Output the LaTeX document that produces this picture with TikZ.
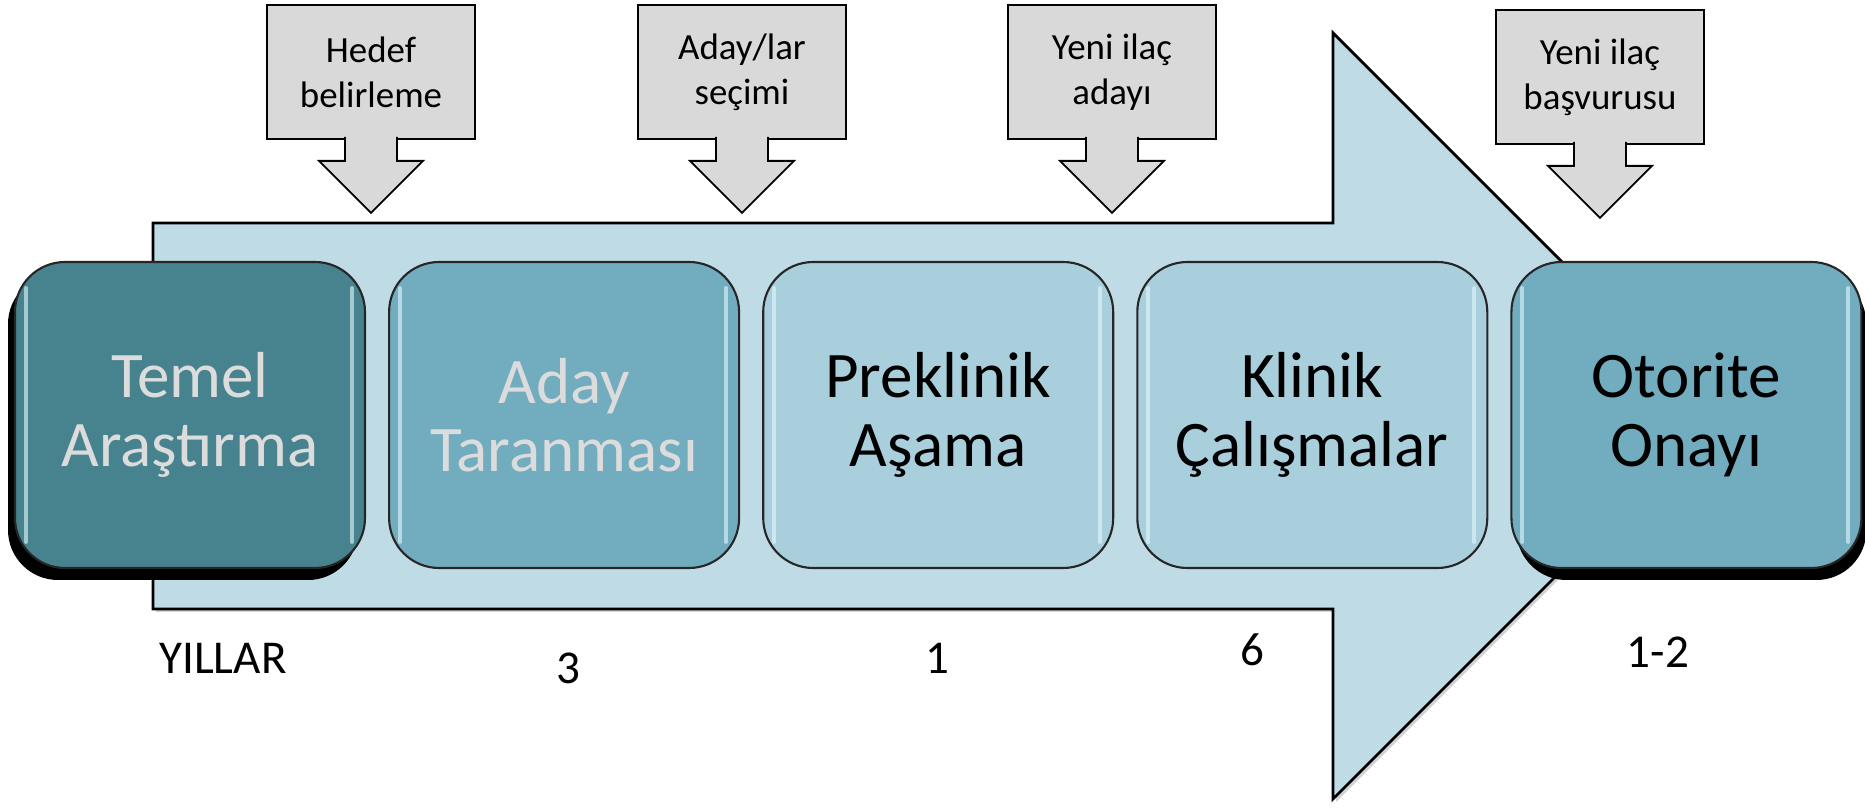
\documentclass[tikz,border=0pt]{standalone}
\usepackage{fontspec}
\setmainfont{Carlito}
\usetikzlibrary{positioning,shadows,calc}

\definecolor{arrowblue}{HTML}{BFDBE5}
\definecolor{darkteal}{HTML}{46838F}
\definecolor{midteal}{HTML}{72ADBF}
\definecolor{paleteal}{HTML}{AACFDC}
\definecolor{calloutgray}{HTML}{D9D9D9}
\definecolor{lighttext}{HTML}{DCDCDC}
\definecolor{gloss}{HTML}{E4F8FC}

\tikzstyle{stage}=[rectangle, rounded corners=5mm, draw=black!85, line width=0.6pt, minimum width=35mm, minimum height=30.6mm, inner sep=0pt, align=center, font=\fontsize{18.5}{19.5}\selectfont,
  path picture={
    \draw[gloss, opacity=.6, line width=1.1pt, line cap=round]
      ([xshift=1.1mm,yshift=-2.6mm]path picture bounding box.north west) -- ([xshift=1.1mm,yshift=2.6mm]path picture bounding box.south west);
    \draw[gloss, opacity=.6, line width=1.1pt, line cap=round]
      ([xshift=-1.3mm,yshift=-2.6mm]path picture bounding box.north east) -- ([xshift=-1.3mm,yshift=2.6mm]path picture bounding box.south east);
  }]
\tikzstyle{callout}=[rectangle, draw=black, line width=0.5pt, fill=calloutgray, minimum width=20.8mm, minimum height=13.4mm, inner sep=0pt, align=center, font=\fontsize{10.5}{12.8}\selectfont]
\tikzstyle{years}=[inner sep=0pt, anchor=base, font=\fontsize{13.4}{16}\selectfont]

\newcommand{\calloutpointer}[1]{\filldraw[draw=black, line width=0.5pt, fill=calloutgray]
  ($(#1.south)+(-26,-3)$) -- ++(0,24) -- ++(-26,0) -- ($(#1.south)+(0,73)$) -- ++(52,-52) -- ++(-26,0) -- ++(0,-24);}

\begin{document}
\begin{tikzpicture}[x=0.1mm, y=-0.1mm]
      \useasboundingbox (0,0) rectangle (1865,808);
      % big arrow behind the stages
      \draw [fill=arrowblue, line width=0.8pt, drop shadow={shadow xshift=0.3mm, shadow yshift=-0.3mm, opacity=.35}]
        (153,223) -- (1333,223) -- (1333,33) -- (1716,416) -- (1333,799) -- (1333,609) -- (153,609) -- cycle;

      % milestones
      \node (Hedef) [callout] at (371,72) {Hedef\\belirleme};
      \node (Secim) [callout] at (742,72) {Aday/lar\\seçimi};
      \node (Aday) [callout] at (1112,72) {Yeni ilaç\\adayı};
      \node (Basvuru) [callout] at (1600,77) {Yeni ilaç\\başvurusu};
      \calloutpointer{Hedef}
      \calloutpointer{Secim}
      \calloutpointer{Aday}
      \calloutpointer{Basvuru}

      % stages
      \node (Temel) [stage, fill=darkteal, text=lighttext, drop shadow={shadow xshift=-0.7mm, shadow yshift=-1.2mm, opacity=1, fill=black}] at (190,415)
            {Temel\\Araştırma};
      \node (Tarama) [stage, fill=midteal, text=lighttext, right=2.2mm of Temel]
            {Aday\\Taranması};
      \node (Preklinik) [stage, fill=paleteal, right=2.2mm of Tarama]
            {Preklinik\\Aşama};
      \node (Klinik) [stage, fill=paleteal, right=2.2mm of Preklinik]
            {Klinik\\Çalışmalar};
      \node (Onay) [stage, fill=midteal, right=2.2mm of Klinik, drop shadow={shadow xshift=0.5mm, shadow yshift=-1.2mm, opacity=1, fill=black}]
            {Otorite\\Onayı};

      % durations
      \node (Yillar) [years] at (223,674) {YILLAR};
      \node (YilTarama) [years] at (568,684) {3};
      \node (YilPreklinik) [years] at (937,674) {1};
      \node (YilKlinik) [years] at (1252,666) {6};
      \node (YilOnay) [years] at (1658,668) {1-2};
\end{tikzpicture}
\end{document}
